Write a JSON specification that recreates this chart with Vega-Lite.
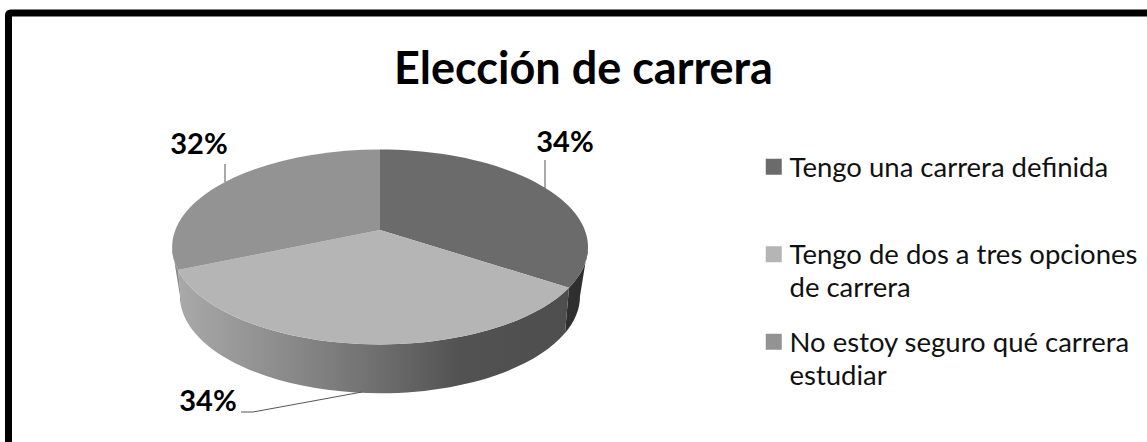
{"$schema":"https://vega.github.io/schema/vega-lite/v6.json","width":1147,"height":442,"padding":0,"autosize":{"type":"none"},"background":"white",
"title":{"text":"Elección de carrera","font":"Lato","fontSize":45,"fontWeight":"bold","color":"#000000","anchor":"middle","frame":"group","offset":-93,"dx":10},
"config":{"view":{"stroke":null}},
"data":{"values":[{"categoria":"Tengo una carrera definida","valor":0.34},{"categoria":"Tengo de dos a tres opciones de carrera","valor":0.34},{"categoria":"No estoy seguro qué carrera estudiar","valor":0.32}]},
"encoding":{"x":{"datum":380,"type":"quantitative","scale":{"domain":[0,1147],"range":[0,1147],"nice":false,"zero":false},"axis":null},"y":{"datum":247,"type":"quantitative","scale":{"domain":[0,442],"range":[0,442],"nice":false,"zero":false},"axis":null}},
"layer":[
{"transform":[{"filter":"datum.categoria=='Tengo una carrera definida'"}],"mark":{"type":"rect","fill":null,"stroke":"#000000","strokeWidth":7,"cornerRadius":2},"encoding":{"x":{"datum":8.5},"x2":{"datum":1170},"y":{"datum":13},"y2":{"datum":470}}},
{"mark":{"type":"square","size":0,"opacity":0},"encoding":{
"color":{"field":"categoria","type":"nominal","scale":{"domain":["Tengo una carrera definida","Tengo de dos a tres opciones de carrera","No estoy seguro qué carrera estudiar"],"range":["#6b6b6b","#b5b5b5","#939393"]},"legend":{"title":null,"orient":"none","legendX":760,"legendY":153,"symbolType":"square","symbolSize":256,"symbolStrokeWidth":0,"symbolOpacity":1,"labelFont":"Lato","labelFontSize":27.5,"labelColor":"#111111","labelLimit":400,"labelOffset":2,"labelBaseline":"top","rowPadding":24.5,"gridAlign":"all","encode":{"labels":{"update":{"lineHeight":{"value":33},"dy":{"value":-12}}}},"labelExpr":"datum.label=='Tengo de dos a tres opciones de carrera'?['Tengo de dos a tres opciones','de carrera']:datum.label=='No estoy seguro qué carrera estudiar'?['No estoy seguro qué carrera','estudiar']:datum.label"}}}},
{"transform":[{"filter":"datum.categoria=='Tengo una carrera definida'"}],"mark":{"type":"point","filled":true,"opacity":1,"size":4,"fill":"#2f2f2f","strokeWidth":0,"shape":"M189,40.7 A208,97.5 0 0 0 208,0 L200,49 A200,97 0 0 1 185,86 Z"},"encoding":{}},
{"transform":[{"filter":"datum.categoria=='Tengo de dos a tres opciones de carrera'"}],"mark":{"type":"point","filled":true,"opacity":1,"size":4,"strokeWidth":0,"fill":{"gradient":"linear","x1":0,"y1":0,"x2":1,"y2":0,"stops":[{"offset":0,"color":"#a9a9a9"},{"offset":0.3,"color":"#888888"},{"offset":0.5,"color":"#707070"},{"offset":0.72,"color":"#525252"},{"offset":1,"color":"#4e4e4e"}]},"shape":"M189,40.7 A208,97.5 0 0 1 -202,23 L-198,63 A200,97 0 0 0 185,86 Z"},"encoding":{}},
{"transform":[{"filter":"datum.categoria=='No estoy seguro qué carrera estudiar'"}],"mark":{"type":"point","filled":true,"opacity":1,"size":4,"fill":"#8a8a8a","strokeWidth":0,"shape":"M-202,23 A208,97.5 0 0 1 -208,0 L-200,49 A200,97 0 0 0 -198,63 Z"},"encoding":{}},
{"transform":[{"filter":"datum.categoria=='Tengo una carrera definida'"}],"mark":{"type":"point","filled":true,"opacity":1,"size":4,"strokeWidth":0,"fill":"#6b6b6b","shape":"M0,-17 L0,-97.5 A208,97.5 0 0 1 189,40.7 Z"},"encoding":{}},
{"transform":[{"filter":"datum.categoria=='Tengo de dos a tres opciones de carrera'"}],"mark":{"type":"point","filled":true,"opacity":1,"size":4,"strokeWidth":0,"fill":"#b5b5b5","shape":"M0,-17 L189,40.7 A208,97.5 0 0 1 -202,23 Z"},"encoding":{}},
{"transform":[{"filter":"datum.categoria=='No estoy seguro qué carrera estudiar'"}],"mark":{"type":"point","filled":true,"opacity":1,"size":4,"strokeWidth":0,"fill":"#939393","shape":"M0,-17 L-202,23 A208,97.5 0 0 1 0,-97.5 Z"},"encoding":{}},
{"transform":[{"filter":"datum.categoria=='Tengo una carrera definida'"}],"mark":{"type":"point","filled":false,"opacity":1,"size":4,"stroke":"#555555","strokeWidth":1,"shape":"M-155,-83 L-155,-65 M165,-87 L165,-59 M-139,165 L-127,165 L-18,145"},"encoding":{}},
{"transform":[{"filter":"datum.categoria=='Tengo una carrera definida'"}],"mark":{"type":"text","font":"Lato","fontSize":29,"fontWeight":"bold","color":"#000000"},"encoding":{"x":{"datum":565},"y":{"datum":143},"text":{"field":"valor","type":"quantitative","format":".0%"}}},
{"transform":[{"filter":"datum.categoria=='Tengo de dos a tres opciones de carrera'"}],"mark":{"type":"text","font":"Lato","fontSize":29,"fontWeight":"bold","color":"#000000"},"encoding":{"x":{"datum":208},"y":{"datum":402},"text":{"field":"valor","type":"quantitative","format":".0%"}}},
{"transform":[{"filter":"datum.categoria=='No estoy seguro qué carrera estudiar'"}],"mark":{"type":"text","font":"Lato","fontSize":29,"fontWeight":"bold","color":"#000000"},"encoding":{"x":{"datum":199},"y":{"datum":145},"text":{"field":"valor","type":"quantitative","format":".0%"}}}
]}
